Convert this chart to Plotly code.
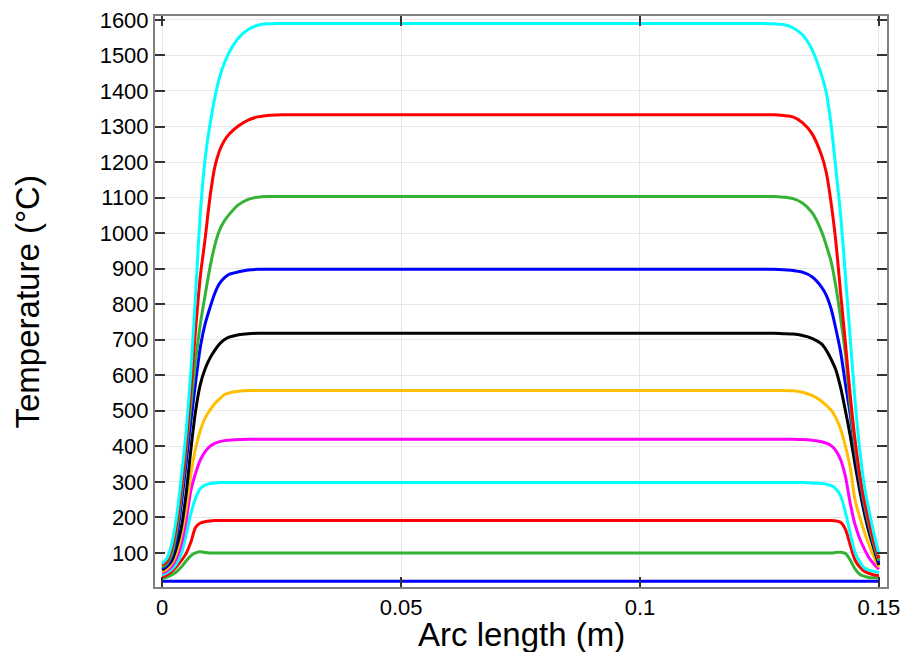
import plotly.graph_objects as go

# Arc length sample positions (m)
arc = [0, 0.001, 0.002, 0.003, 0.004, 0.005, 0.006, 0.007, 0.008, 0.009, 0.010,
       0.011, 0.012, 0.013, 0.014, 0.016, 0.018, 0.020, 0.022, 0.025, 0.030,
       0.075, 0.120,
       0.125, 0.128, 0.130, 0.132, 0.134, 0.136, 0.138, 0.139, 0.140, 0.141,
       0.142, 0.143, 0.144, 0.145, 0.146, 0.147, 0.148, 0.149, 0.150]

# Temperature profiles (degC), one list per curve
t_blue1 = [20] * 42
t_green1 = [28, 32, 38, 47, 60, 77, 92, 100, 103, 101, 100,
            100, 100, 100, 100, 100, 100, 100, 100, 100, 100,
            100, 100,
            100, 100, 100, 100, 100, 100, 100, 100, 100, 101,
            102, 98, 80, 55, 40, 34, 31, 30, 29]
t_red1 = [33, 38, 48, 62, 78, 98, 130, 172, 184, 188, 190,
          191, 191, 191, 191, 191, 191, 191, 191, 191, 191,
          191, 191,
          191, 191, 191, 191, 191, 191, 191, 191, 191, 190,
          186, 166, 122, 80, 60, 48, 42, 38, 36]
t_cyan1 = [38, 44, 54, 70, 97, 150, 210, 254, 281, 291, 295,
           297, 298, 298, 298, 298, 298, 298, 298, 298, 298,
           298, 298,
           298, 298, 298, 298, 298, 297, 295, 293, 289, 280,
           260, 215, 155, 102, 75, 57, 51, 48, 45]
t_magenta = [43, 50, 62, 85, 125, 190, 275, 325, 362, 385, 400,
             408, 413, 416, 417, 419, 420, 420, 420, 420, 420,
             420, 420,
             420, 420, 420, 420, 419, 417, 413, 409, 402, 388,
             362, 315, 240, 180, 140, 110, 85, 68, 54]
t_orange = [47, 55, 70, 100, 150, 225, 320, 395, 445, 480, 502,
            520, 533, 545, 550, 555, 557, 557, 557, 557, 557,
            557, 557,
            557, 557, 557, 556, 552, 543, 527, 515, 502, 480,
            448, 400, 340, 250, 200, 158, 120, 88, 60]
t_black = [52, 62, 78, 115, 170, 265, 390, 500, 575, 618, 648,
           670, 688, 700, 707, 714, 717, 718, 718, 718, 718,
           718, 718,
           718, 718, 717, 716, 712, 704, 688, 670, 645, 615,
           565, 500, 430, 350, 275, 210, 155, 110, 66]
t_blue2 = [56, 64, 88, 140, 235, 350, 470, 580, 680, 745, 790,
           830, 858, 874, 884, 891, 896, 898, 898, 898, 898,
           898, 898,
           898, 898, 897, 895, 890, 877, 848, 825, 787, 730,
           665, 575, 490, 390, 300, 225, 168, 117, 72]
t_green2 = [60, 70, 96, 160, 262, 385, 515, 640, 745, 826, 903,
            965, 1008, 1034, 1052, 1080, 1095, 1101, 1103, 1103, 1103,
            1103, 1103,
            1103, 1103, 1101, 1097, 1085, 1058, 1005, 965, 920, 850,
            760, 660, 515, 400, 310, 235, 175, 122, 78]
t_red2 = [65, 76, 112, 180, 280, 405, 560, 730, 880, 985, 1100,
          1185, 1232, 1260, 1278, 1302, 1318, 1327, 1331, 1333, 1333,
          1333, 1333,
          1333, 1333, 1331, 1327, 1311, 1280, 1219, 1170, 1085, 975,
          830, 690, 545, 420, 320, 245, 185, 130, 85]
t_cyan2 = [70, 85, 125, 200, 310, 440, 610, 830, 1058, 1210, 1305,
           1380, 1438, 1478, 1508, 1550, 1573, 1585, 1589, 1590, 1590,
           1590, 1590,
           1590, 1589, 1587, 1578, 1558, 1517, 1445, 1395, 1305, 1180,
           1050, 880, 705, 529, 390, 285, 215, 152, 95]

series = [t_blue1, t_green1, t_red1, t_cyan1, t_magenta, t_orange, t_black,
          t_blue2, t_green2, t_red2, t_cyan2]
colors = ["#0000FF", "#33B233", "#FF0000", "#00FFFF", "#FF00FF", "#FFBF00",
          "#000000", "#0000FF", "#33B233", "#FF0000", "#00FFFF"]

x_ticks = [0, 0.05, 0.1, 0.15]
x_tick_labels = ["0", "0.05", "0.1", "0.15"]
y_ticks = list(range(100, 1700, 100))
x_title = "Arc length (m)"
y_title = "Temperature (°C)"

FONT = "Liberation Sans, Arial, sans-serif"

fig = go.Figure()
for ys, c in zip(series, colors):
    fig.add_trace(go.Scatter(x=arc, y=ys, mode="lines",
                             line=dict(color=c, width=3, shape="spline", smoothing=0.8),
                             showlegend=False, hoverinfo="skip"))

axis_common = dict(showline=True, linecolor="#808080", linewidth=2, mirror="ticks",
                   ticks="inside", ticklen=10, tickwidth=1.5, tickcolor="#333333",
                   showgrid=True, gridcolor="#E6E6E6", gridwidth=1, zeroline=False,
                   automargin=False, ticklabeloverflow="allow",
                   tickfont=dict(family=FONT, size=22, color="#000000"))

# page body has an 8px default margin, so the figure is shifted by (8, 8)
fig.update_layout(
    width=902, height=644,
    margin=dict(l=147, r=23, t=8, b=65),
    paper_bgcolor="white", plot_bgcolor="white",
    xaxis=dict(range=[-0.0015, 0.1517], tickvals=x_ticks, ticktext=x_tick_labels,
               **axis_common),
    yaxis=dict(range=[4, 1611], tickvals=y_ticks, **axis_common),
    annotations=[
        dict(text=x_title, xref="paper", yref="paper", x=0.5, y=-0.084,
             xanchor="center", yanchor="middle", showarrow=False,
             font=dict(family=FONT, size=33, color="#000")),
        dict(text=y_title, xref="paper", yref="paper", x=-0.1735, y=0.5,
             xanchor="center", yanchor="middle", showarrow=False, textangle=-90,
             font=dict(family=FONT, size=33, color="#000")),
    ],
)

fig.write_html("out.html", config={"displayModeBar": False})
